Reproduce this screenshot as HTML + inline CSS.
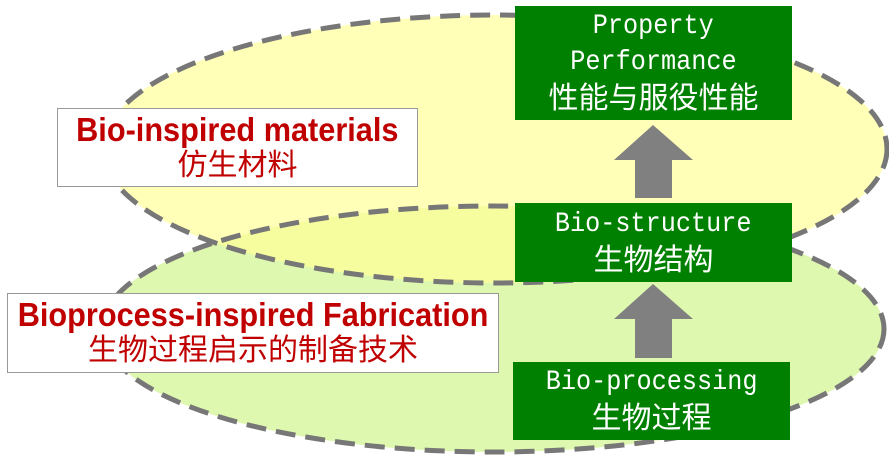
<!DOCTYPE html>
<html><head><meta charset="utf-8"><style>
body{margin:0;width:889px;height:456px;background:#fff;position:relative;overflow:hidden;font-family:"Liberation Sans","Noto Sans CJK SC",sans-serif}
.g{position:absolute;background:#008000;color:#fff;text-align:center;font-family:"Liberation Mono","Noto Sans CJK SC",monospace;font-size:28px;display:flex;flex-direction:column;justify-content:center;line-height:36px;white-space:nowrap}
.g span{display:inline-block;transform:scaleX(0.9)}
.g .z{font-size:30px;font-family:"Liberation Sans","Noto Sans CJK SC",sans-serif}
.g .z span{transform:none}
.w{position:absolute;background:#fff;border:1.5px solid #999;color:#c00000;text-align:center;font-size:30px;line-height:36px;display:flex;flex-direction:column;justify-content:center;white-space:nowrap}
.w b{font-size:33px;display:block;width:100%}
.w b span{display:inline-block;transform:scaleX(0.93);margin:0 -40px}
</style></head><body>
<svg width="889" height="456" style="position:absolute;left:0;top:0">
<ellipse cx="493" cy="329" rx="391" ry="123" fill="#d4f594" fill-opacity="0.75"/>
<ellipse cx="495" cy="149" rx="392" ry="134" fill="#ffff99" fill-opacity="0.7"/>
<ellipse cx="493" cy="329" rx="391" ry="123" fill="none" stroke="#777" stroke-width="5" stroke-dasharray="20,10"/>
<ellipse cx="495" cy="149" rx="392" ry="134" fill="none" stroke="#777" stroke-width="5" stroke-dasharray="20,10"/>
<polygon points="653,125 693,160 672,160 672,198 635,198 635,160 614,160" fill="#808080"/>
<polygon points="653,284 693,319 672,319 672,358 635,358 635,319 614,319" fill="#808080"/>
</svg>
<div class="g" style="left:515px;top:6px;width:277px;height:114px"><div><span>Property</span></div><div><span>Performance</span></div><div class="z"><span>性能与服役性能</span></div></div>
<div class="g" style="left:515px;top:203px;width:277px;height:79px"><div><span>Bio-structure</span></div><div class="z"><span>生物结构</span></div></div>
<div class="g" style="left:513px;top:362px;width:277px;height:78px"><div><span>Bio-processing</span></div><div class="z"><span>生物过程</span></div></div>
<div class="w" style="left:57px;top:108px;width:359px;height:77px"><b><span>Bio-inspired materials</span></b><div>仿生材料</div></div>
<div class="w" style="left:7px;top:293px;width:490px;height:78px"><b><span>Bioprocess-inspired Fabrication</span></b><div>生物过程启示的制备技术</div></div>
</body></html>
